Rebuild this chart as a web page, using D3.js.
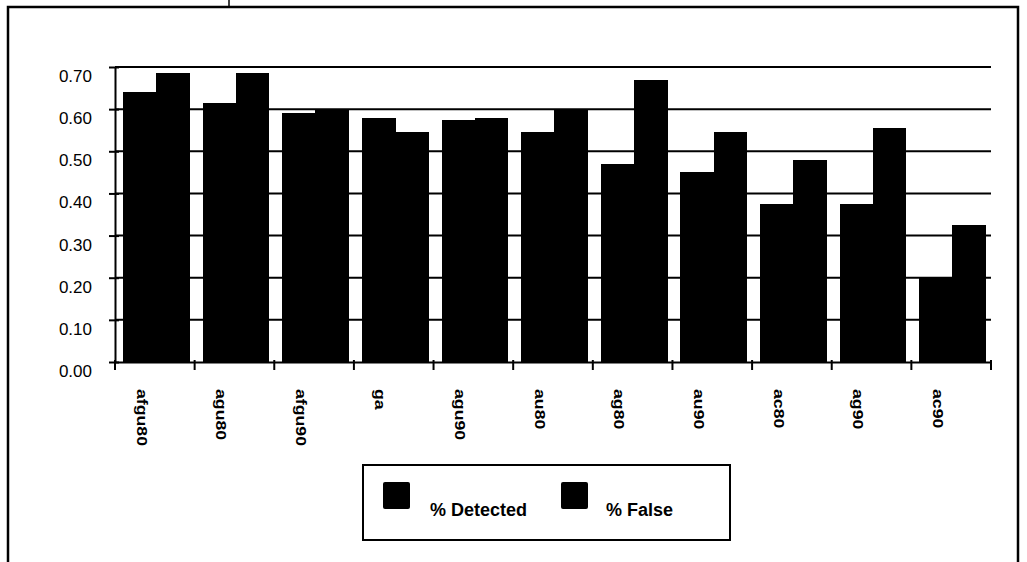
<!DOCTYPE html>
<html>
<head>
<meta charset="utf-8">
<script src="https://cdn.jsdelivr.net/npm/d3@7"></script>
<style>
  html, body { margin: 0; padding: 0; background: #fff; }
  svg { display: block; }
  text { font-family: "Liberation Sans", Arial, sans-serif; fill: #000; }
</style>
</head>
<body>
<svg id="chart" width="1027" height="562"></svg>
<script>
// Detection rate vs. false-alarm rate for each feature set
const categories = ["afgu80", "agu80", "afgu90", "ga", "agu90", "au80", "ag80", "au90", "ac80", "ag90", "ac90"];
const seriesNames = ["% Detected", "% False"];
const detected = [0.64, 0.615, 0.59, 0.58, 0.575, 0.545, 0.47, 0.45, 0.375, 0.375, 0.20];
const falseRate = [0.685, 0.685, 0.60, 0.545, 0.58, 0.60, 0.67, 0.545, 0.48, 0.555, 0.325];
const yTicks = [0, 0.1, 0.2, 0.3, 0.4, 0.5, 0.6, 0.7];

const svg = d3.select("#chart");

// Outer frame (left, top, right edges)
svg.append("path")
  .attr("d", "M8,562 L8,7 L1018,7 L1018,562")
  .attr("fill", "none").attr("stroke", "#000").attr("stroke-width", 2.5);
svg.append("line").attr("x1", 229).attr("x2", 229).attr("y1", 0).attr("y2", 7)
  .attr("stroke", "#000").attr("stroke-width", 1.5);

const plot = { left: 115, right: 991, top: 67, bottom: 362 };

const x0 = d3.scaleBand().domain(categories).range([plot.left, plot.right]).padding(0);
const x1 = d3.scaleBand().domain(seriesNames).range([8, x0.bandwidth() - 5.5]).padding(0);
const y = d3.scaleLinear().domain([0, 0.7]).range([plot.bottom, plot.top]);

const rows = categories.map((c, i) => ({ cat: c, values: [detected[i], falseRate[i]] }));

// Bars (the pair in each group touch, so widen slightly to avoid seams)
const g = svg.append("g").attr("shape-rendering", "crispEdges");
g.selectAll("g.grp").data(rows).join("g")
  .attr("class", "grp")
  .attr("transform", d => `translate(${x0(d.cat)},0)`)
  .selectAll("rect")
  .data(d => d.values.map((v, k) => ({ s: seriesNames[k], v })))
  .join("rect")
  .attr("x", d => x1(d.s))
  .attr("width", x1.bandwidth() + 0.6)
  .attr("y", d => y(d.v))
  .attr("height", d => y(0) - y(d.v))
  .attr("fill", "#000");

// Horizontal gridlines
svg.append("g").selectAll("line").data(yTicks.filter(t => t > 0)).join("line")
  .attr("x1", plot.left).attr("x2", plot.right)
  .attr("y1", d => y(d)).attr("y2", d => y(d))
  .attr("stroke", "#000").attr("stroke-width", 2);

// Y axis
const yAxis = svg.append("g").attr("transform", `translate(${plot.left},0)`)
  .call(d3.axisLeft(y).tickValues(yTicks).tickFormat(d3.format(".2f")).tickSizeInner(6).tickSizeOuter(0));
yAxis.select(".domain").attr("stroke", "#000").attr("stroke-width", 2);
yAxis.selectAll(".tick line").attr("stroke", "#000").attr("stroke-width", 2).attr("x1", 4);
yAxis.selectAll(".tick text")
  .attr("x", -23).attr("dy", "0.85em")
  .style("font-size", "17px").attr("text-anchor", "end");

// X axis
const xAxis = svg.append("g").attr("transform", `translate(0,${plot.bottom})`)
  .call(d3.axisBottom(x0).tickSize(0).tickFormat(""));
xAxis.select(".domain").attr("stroke", "#000").attr("stroke-width", 2);
const boundaries = categories.map(c => x0(c)).concat([plot.right]);
xAxis.selectAll("line.sep").data(boundaries).join("line")
  .attr("class", "sep")
  .attr("x1", d => d).attr("x2", d => d)
  .attr("y1", -2).attr("y2", 8)
  .attr("stroke", "#000").attr("stroke-width", 2);

// Category labels, rotated to read top to bottom
svg.append("g").selectAll("text").data(categories).join("text")
  .attr("transform", d => `translate(${x0(d) + x0.bandwidth() / 2 - 13},389) rotate(90) scale(1.18,1)`)
  .attr("text-anchor", "start")
  .attr("dy", "0.35em")
  .style("font-size", "15px")
  .style("font-weight", "bold")
  .text(d => d);

// Legend
const legend = svg.append("g");
legend.append("rect")
  .attr("x", 363).attr("y", 465).attr("width", 367).attr("height", 75)
  .attr("fill", "none").attr("stroke", "#000").attr("stroke-width", 2);
const legendItems = [
  { name: seriesNames[0], sx: 383, tx: 430 },
  { name: seriesNames[1], sx: 561, tx: 606 }
];
legend.selectAll("rect.sw").data(legendItems).join("rect")
  .attr("class", "sw")
  .attr("x", d => d.sx).attr("y", 482).attr("width", 27).attr("height", 27)
  .attr("rx", 2).attr("fill", "#000");
legend.selectAll("text").data(legendItems).join("text")
  .attr("x", d => d.tx).attr("y", 516)
  .style("font-size", "18px").style("font-weight", "bold")
  .text(d => d.name);
</script>
</body>
</html>
